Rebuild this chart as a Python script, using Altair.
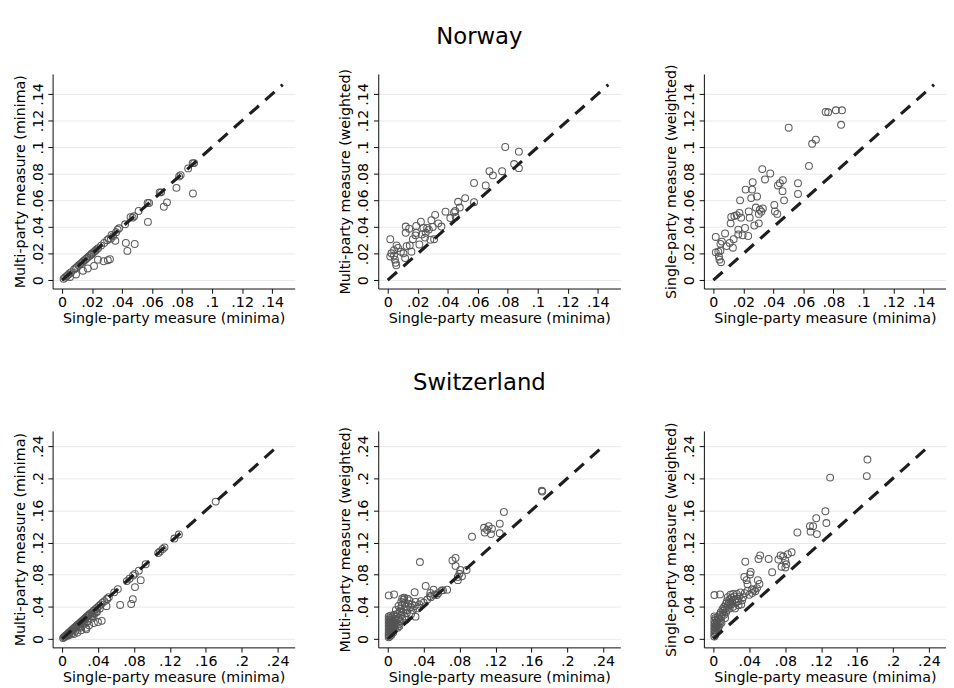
import altair as alt
import pandas as pd

FONT = "DejaVu Sans"

# ---------------- Norway ----------------
nor_p1_x = [0.001, 0.002, 0.003, 0.004, 0.005, 0.006, 0.008, 0.009, 0.010, 0.011, 0.012, 0.013,
            0.014, 0.015, 0.016, 0.017, 0.018, 0.019, 0.020, 0.021, 0.022, 0.023, 0.024, 0.026,
            0.028, 0.030, 0.031, 0.033, 0.034, 0.036, 0.037, 0.038, 0.042, 0.0456, 0.047, 0.048,
            0.051, 0.057, 0.058, 0.065, 0.066, 0.078, 0.079, 0.084, 0.087, 0.088,
            0.0872, 0.0762, 0.0678, 0.0699, 0.0572, 0.0425, 0.0484, 0.0435, 0.0355, 0.0319,
            0.0305, 0.0277, 0.0239, 0.0213, 0.0171, 0.0139, 0.0093, 0.0053, 0.0195, 0.0325]
nor_p1_y = [0.001, 0.002, 0.003, 0.004, 0.005, 0.006, 0.008, 0.009, 0.010, 0.011, 0.012, 0.013,
            0.014, 0.015, 0.016, 0.017, 0.018, 0.019, 0.020, 0.021, 0.022, 0.023, 0.024, 0.026,
            0.028, 0.030, 0.031, 0.034, 0.033, 0.036, 0.038, 0.039, 0.042, 0.0474, 0.047, 0.048,
            0.052, 0.058, 0.058, 0.066, 0.066, 0.078, 0.079, 0.084, 0.088, 0.088,
            0.0652, 0.0694, 0.0552, 0.0585, 0.0438, 0.0280, 0.0272, 0.0220, 0.0296, 0.0158,
            0.0150, 0.0142, 0.0154, 0.0107, 0.0088, 0.0071, 0.0043, 0.0024, 0.0195, 0.0312]

nor_p2_x = [0.0783, 0.0874, 0.0842, 0.0874, 0.0762, 0.0678, 0.0701, 0.0653, 0.0575, 0.0575,
            0.0516, 0.0469, 0.0480, 0.0442, 0.0453, 0.0385, 0.0417, 0.0316, 0.0291, 0.0221,
            0.0120, 0.0143, 0.0120, 0.0190, 0.0238, 0.0263, 0.0274, 0.0337, 0.0358, 0.0227,
            0.0248, 0.0309, 0.0284, 0.0211, 0.0185, 0.0168, 0.0147, 0.0126, 0.0158, 0.0105,
            0.0116, 0.0069, 0.0059, 0.0042, 0.0025, 0.0017, 0.0017, 0.0048, 0.0053, 0.0057,
            0.0042, 0.0088, 0.0190, 0.0253, 0.0450, 0.0300]
nor_p2_y = [0.1001, 0.0966, 0.0873, 0.0842, 0.0819, 0.0819, 0.0788, 0.0712, 0.0731, 0.0586,
            0.0617, 0.0589, 0.0546, 0.0510, 0.0475, 0.0515, 0.0467, 0.0491, 0.0451, 0.0439,
            0.0403, 0.0387, 0.0356, 0.0408, 0.0392, 0.0392, 0.0380, 0.0427, 0.0403, 0.0344,
            0.0320, 0.0308, 0.0304, 0.0268, 0.0337, 0.0308, 0.0261, 0.0256, 0.0214, 0.0202,
            0.0166, 0.0242, 0.0261, 0.0225, 0.0202, 0.0178, 0.0308, 0.0154, 0.0130, 0.0112,
            0.0185, 0.0214, 0.0356, 0.0356, 0.0520, 0.0400]

nor_p3_x = [0.0748, 0.0765, 0.0816, 0.0857, 0.0851, 0.0502, 0.0658, 0.0683, 0.0637, 0.0326,
            0.0379, 0.0344, 0.0262, 0.0258, 0.0215, 0.0252, 0.0178, 0.0291, 0.0463, 0.0443,
            0.0430, 0.0461, 0.0564, 0.0564, 0.0471, 0.0406, 0.0410, 0.0426, 0.0236, 0.0242,
            0.0283, 0.0309, 0.0320, 0.0330, 0.0303, 0.0174, 0.0185, 0.0156, 0.0119, 0.0115,
            0.0140, 0.0273, 0.0303, 0.0211, 0.0166, 0.0166, 0.0195, 0.0232, 0.0078, 0.0016,
            0.0057, 0.0135, 0.0109, 0.0130, 0.0088, 0.0047, 0.0016, 0.0033, 0.0047, 0.0041,
            0.0051, 0.0037]
nor_p3_y = [0.1265, 0.1262, 0.1277, 0.1277, 0.1168, 0.1146, 0.1025, 0.1056, 0.0859, 0.0835,
            0.0802, 0.0757, 0.0736, 0.0681, 0.0681, 0.0617, 0.0600, 0.0629, 0.0752, 0.0729,
            0.0712, 0.0669, 0.0729, 0.0648, 0.0600, 0.0565, 0.0517, 0.0498, 0.0517, 0.0470,
            0.0546, 0.0529, 0.0515, 0.0539, 0.0498, 0.0505, 0.0470, 0.0489, 0.0475, 0.0427,
            0.0482, 0.0411, 0.0427, 0.0392, 0.0380, 0.0344, 0.0337, 0.0332, 0.0351, 0.0325,
            0.0290, 0.0308, 0.0280, 0.0244, 0.0256, 0.0273, 0.0209, 0.0214, 0.0221, 0.0154,
            0.0135, 0.0178]

# ---------------- Switzerland ----------------
swi_p4_x = [0.001, 0.002, 0.003, 0.004, 0.005, 0.006, 0.007, 0.008, 0.009, 0.010, 0.011, 0.012,
            0.013, 0.014, 0.015, 0.016, 0.017, 0.018, 0.019, 0.020, 0.021, 0.022, 0.023, 0.024,
            0.025, 0.026, 0.027, 0.028, 0.029, 0.030, 0.031, 0.033, 0.035, 0.037, 0.039, 0.041,
            0.043, 0.045, 0.047, 0.050, 0.052, 0.058, 0.062, 0.072, 0.075, 0.079, 0.081, 0.093,
            0.107, 0.109, 0.112, 0.114, 0.125, 0.130, 0.171,
            0.0854, 0.0875, 0.0811, 0.0787, 0.0769, 0.0646, 0.0494, 0.0501, 0.0441, 0.0399,
            0.0353, 0.0300, 0.0265, 0.0212, 0.0170, 0.0130, 0.0350, 0.0320, 0.0280, 0.0250,
            0.0330, 0.0380, 0.0220, 0.0200, 0.0150, 0.0110, 0.0080, 0.0060, 0.0270, 0.0360,
            0.0388, 0.0335, 0.0282, 0.0420, 0.0180, 0.0240]
swi_p4_y = [0.001, 0.002, 0.003, 0.004, 0.005, 0.006, 0.007, 0.008, 0.009, 0.010, 0.011, 0.012,
            0.013, 0.014, 0.015, 0.016, 0.017, 0.018, 0.019, 0.020, 0.021, 0.022, 0.023, 0.024,
            0.025, 0.026, 0.027, 0.028, 0.029, 0.030, 0.031, 0.033, 0.035, 0.037, 0.039, 0.041,
            0.043, 0.045, 0.047, 0.050, 0.052, 0.058, 0.062, 0.072, 0.075, 0.079, 0.081, 0.093,
            0.107, 0.109, 0.112, 0.114, 0.125, 0.130, 0.171,
            0.0850, 0.0732, 0.0645, 0.0495, 0.0435, 0.0423, 0.0408, 0.0495, 0.0225, 0.0210,
            0.0198, 0.0170, 0.0138, 0.0107, 0.0080, 0.0060, 0.0280, 0.0250, 0.0220, 0.0190,
            0.0300, 0.0340, 0.0160, 0.0140, 0.0100, 0.0070, 0.0050, 0.0040, 0.0120, 0.0320,
            0.0336, 0.0277, 0.0217, 0.0380, 0.0150, 0.0200]

swi_p5_x = [0.1715, 0.1720, 0.1293, 0.1247, 0.1247, 0.1124, 0.1072, 0.1107, 0.1079, 0.1149,
            0.1160, 0.0938, 0.0755, 0.0720, 0.0755, 0.0808, 0.0878, 0.0798, 0.0780, 0.0826,
            0.0780, 0.0358, 0.0422, 0.0615, 0.0661, 0.0510, 0.0545, 0.0474, 0.0299, 0.0309,
            0.0011, 0.0070, 0.0183, 0.0161, 0.0471, 0.0600,
            0.001, 0.001, 0.001, 0.001, 0.001, 0.001, 0.001, 0.001, 0.002, 0.002, 0.002, 0.002,
            0.002, 0.002, 0.003, 0.003, 0.003, 0.003, 0.003, 0.004, 0.004, 0.004, 0.004, 0.005,
            0.005, 0.005, 0.005, 0.006, 0.006, 0.006, 0.007, 0.007, 0.007, 0.008, 0.008, 0.008,
            0.009, 0.009, 0.010, 0.010, 0.011, 0.012, 0.012, 0.013, 0.014, 0.014, 0.015, 0.016,
            0.016, 0.017, 0.018, 0.019, 0.019, 0.020, 0.021, 0.022, 0.023, 0.024, 0.025, 0.026,
            0.027, 0.028, 0.030, 0.031, 0.033, 0.035, 0.037, 0.040, 0.044, 0.048, 0.052, 0.056,
            0.022, 0.015, 0.012, 0.009, 0.018, 0.020, 0.013, 0.004, 0.006, 0.011]
swi_p5_y = [0.1847, 0.1835, 0.1582, 0.1435, 0.1317, 0.1404, 0.1384, 0.1356, 0.1325, 0.1305,
            0.1372, 0.1273, 0.1008, 0.0977, 0.0909, 0.0858, 0.0858, 0.0811, 0.0771, 0.0779,
            0.0732, 0.0957, 0.0660, 0.0605, 0.0613, 0.0613, 0.0546, 0.0573, 0.0581, 0.0277,
            0.0542, 0.0553, 0.0514, 0.0503, 0.0534, 0.0605,
            0.002, 0.005, 0.008, 0.012, 0.016, 0.020, 0.024, 0.028, 0.003, 0.010, 0.014, 0.018,
            0.022, 0.026, 0.006, 0.012, 0.017, 0.021, 0.029, 0.008, 0.014, 0.019, 0.024, 0.010,
            0.016, 0.020, 0.027, 0.012, 0.018, 0.023, 0.015, 0.021, 0.030, 0.013, 0.019, 0.025,
            0.017, 0.028, 0.020, 0.024, 0.031, 0.018, 0.026, 0.034, 0.022, 0.038, 0.029, 0.025,
            0.042, 0.033, 0.037, 0.028, 0.045, 0.040, 0.032, 0.036, 0.044, 0.048, 0.039, 0.031,
            0.043, 0.036, 0.041, 0.046, 0.038, 0.043, 0.047, 0.045, 0.049, 0.052, 0.055, 0.057,
            0.050, 0.046, 0.041, 0.036, 0.049, 0.024, 0.016, 0.005, 0.008, 0.014]

swi_p6_x = [0.1715, 0.1708, 0.1300, 0.1247, 0.1258, 0.1145, 0.1152, 0.1075, 0.1110, 0.1082,
            0.0935, 0.0871, 0.0829, 0.0777, 0.0748, 0.0724, 0.0801, 0.0812, 0.0759, 0.0801,
            0.0520, 0.0502, 0.0615, 0.0654, 0.0355, 0.0415, 0.0408, 0.0344, 0.0369, 0.0495,
            0.0513, 0.0467, 0.0432, 0.0011, 0.0074, 0.0485, 0.0380, 0.0450,
            0.001, 0.001, 0.001, 0.001, 0.001, 0.001, 0.001, 0.002, 0.002, 0.002, 0.002, 0.002,
            0.003, 0.003, 0.003, 0.003, 0.004, 0.004, 0.004, 0.005, 0.005, 0.005, 0.006, 0.006,
            0.007, 0.007, 0.008, 0.008, 0.009, 0.010, 0.010, 0.011, 0.012, 0.013, 0.014, 0.014,
            0.015, 0.016, 0.016, 0.017, 0.018, 0.018, 0.019, 0.020, 0.020, 0.021, 0.022, 0.022,
            0.023, 0.024, 0.025, 0.026, 0.027, 0.028, 0.029, 0.030, 0.031, 0.033, 0.035, 0.038,
            0.040, 0.043, 0.012, 0.015, 0.019, 0.024, 0.028, 0.009, 0.013, 0.032]
swi_p6_y = [0.2234, 0.2028, 0.2009, 0.1590, 0.1443, 0.1503, 0.1305, 0.1404, 0.1404, 0.1336,
            0.1325, 0.1080, 0.1056, 0.1028, 0.1040, 0.0989, 0.0977, 0.0929, 0.0898, 0.0890,
            0.1040, 0.0996, 0.0996, 0.0830, 0.0961, 0.0834, 0.0803, 0.0771, 0.0732, 0.0732,
            0.0684, 0.0593, 0.0573, 0.0546, 0.0554, 0.0633, 0.0680, 0.0610,
            0.003, 0.007, 0.011, 0.015, 0.019, 0.023, 0.028, 0.005, 0.009, 0.014, 0.020, 0.026,
            0.008, 0.013, 0.018, 0.024, 0.010, 0.016, 0.022, 0.012, 0.019, 0.027, 0.015, 0.025,
            0.018, 0.030, 0.022, 0.033, 0.027, 0.031, 0.037, 0.035, 0.040, 0.038, 0.044, 0.033,
            0.047, 0.041, 0.052, 0.045, 0.049, 0.038, 0.055, 0.043, 0.051, 0.047, 0.056, 0.040,
            0.053, 0.049, 0.045, 0.056, 0.050, 0.047, 0.053, 0.058, 0.043, 0.052, 0.057, 0.060,
            0.055, 0.062, 0.030, 0.036, 0.044, 0.038, 0.042, 0.020, 0.026, 0.048]

# dashed 45-degree reference lines
nor_diag = [0.0, 0.147]
swi_diag = [0.0, 0.24]

nor_ticks = [0, 0.02, 0.04, 0.06, 0.08, 0.10, 0.12, 0.14]
swi_ticks = [0, 0.04, 0.08, 0.12, 0.16, 0.20, 0.24]

nor_domain = [-0.0063, 0.155]
swi_domain = [-0.0106, 0.259]

x_title = "Single-party measure (minima)"
y_titles = ["Multi-party measure (minima)", "Multi-party measure (weighted)",
            "Single-party measure (weighted)"]

LABEL_EXPR = "datum.value == 0 ? '0' : replace(format(datum.value, '.2~f'), '0.', '.')"

W = 255
H_NOR = 226
H_SWI = 228

AX_COMMON = dict(labelFont=FONT, titleFont=FONT, labelFontSize=15, titleFontSize=15,
                 labelColor="black", titleColor="black", titleFontWeight="normal",
                 domainColor="black", tickColor="black", tickSize=5, domainWidth=1,
                 tickWidth=1, labelFlush=False, labelOverlap=False)


def panel(xs, ys, diag, ticks, domain, ytitle, h):
    pts = pd.DataFrame({"x": xs, "y": ys})
    line = pd.DataFrame({"x": diag, "y": diag})
    xscale = alt.Scale(domain=domain, nice=False, zero=False)
    yscale = alt.Scale(domain=domain, nice=False, zero=False)
    xaxis = alt.Axis(values=ticks, labelExpr=LABEL_EXPR, title=x_title, grid=False,
                     labelPadding=2, titlePadding=2, **AX_COMMON)
    yaxis = alt.Axis(values=ticks, labelExpr=LABEL_EXPR, title=ytitle, grid=True,
                     gridColor="#e8e8e8", gridWidth=1,
                     labelAngle=270, labelPadding=3, titlePadding=4, **AX_COMMON)
    sc = alt.Chart(pts).mark_point(shape="circle", filled=False, size=52,
                                   strokeWidth=1.1, color="#555555", opacity=0.95).encode(
        x=alt.X("x:Q", scale=xscale, axis=xaxis),
        y=alt.Y("y:Q", scale=yscale, axis=yaxis),
    )
    ln = alt.Chart(line).mark_line(color="#1e1e1e", strokeWidth=3.3,
                                   strokeDash=[13, 9]).encode(
        x=alt.X("x:Q", scale=xscale, axis=xaxis),
        y=alt.Y("y:Q", scale=yscale, axis=yaxis))
    return alt.layer(sc, ln).properties(width=W, height=h)


def row_title(text, offset):
    return alt.TitleParams(text, fontSize=24, font=FONT, fontWeight="normal",
                           anchor="middle", offset=offset, color="black")


nor = alt.hconcat(
    panel(nor_p1_x, nor_p1_y, nor_diag, nor_ticks, nor_domain, y_titles[0], H_NOR),
    panel(nor_p2_x, nor_p2_y, nor_diag, nor_ticks, nor_domain, y_titles[1], H_NOR),
    panel(nor_p3_x, nor_p3_y, nor_diag, nor_ticks, nor_domain, y_titles[2], H_NOR),
    spacing=45, title=row_title("Norway", 16),
)
swi = alt.hconcat(
    panel(swi_p4_x, swi_p4_y, swi_diag, swi_ticks, swi_domain, y_titles[0], H_SWI),
    panel(swi_p5_x, swi_p5_y, swi_diag, swi_ticks, swi_domain, y_titles[1], H_SWI),
    panel(swi_p6_x, swi_p6_y, swi_diag, swi_ticks, swi_domain, y_titles[2], H_SWI),
    spacing=45, title=row_title("Switzerland", 29),
)

chart = alt.vconcat(nor, swi, spacing=48,
                    padding={"left": 5, "top": 0, "right": 0, "bottom": 0},
                    background="white").configure_view(stroke=None)

chart.save("out.html", embed_options={"renderer": "svg", "actions": False})
